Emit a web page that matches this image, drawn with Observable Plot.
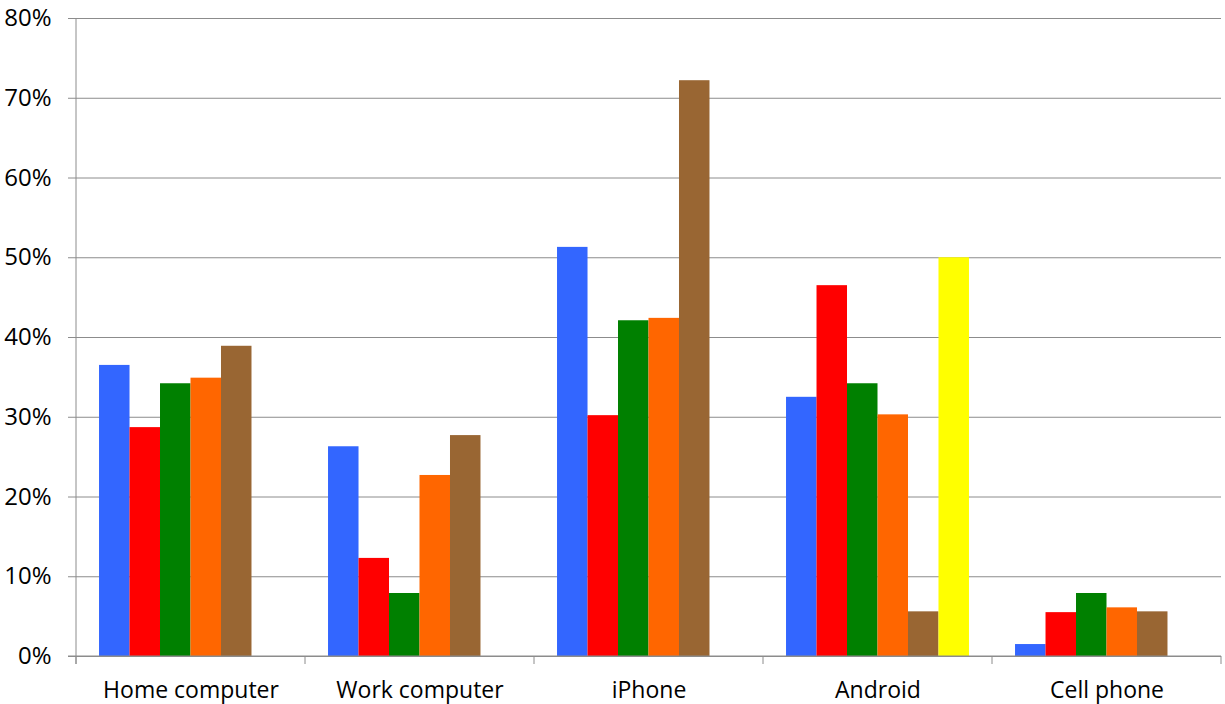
<!DOCTYPE html>
<html><head><meta charset="utf-8">
<script src="https://cdn.jsdelivr.net/npm/d3@7"></script>
<script src="https://cdn.jsdelivr.net/npm/@observablehq/plot@0.6"></script>
<style>html,body{margin:0;padding:0;background:#fff} svg{display:block}</style>
</head><body><div id="chart"></div>
<script>
const categories = ["Home computer", "Work computer", "iPhone", "Android", "Cell phone"];
const seriesNames = ["s1", "s2", "s3", "s4", "s5", "s6"];
const seriesColors = ["#3366FF", "#FF0000", "#008000", "#FF6600", "#996633", "#FFFF00"];
const blueValues   = [36.5, 26.3, 51.3, 32.5, 1.5];
const redValues    = [28.7, 12.3, 30.2, 46.5, 5.5];
const greenValues  = [34.2, 7.9, 42.1, 34.2, 7.9];
const orangeValues = [34.9, 22.7, 42.4, 30.3, 6.1];
const brownValues  = [38.9, 27.7, 72.2, 5.6, 5.6];
const yellowValues = [null, null, null, 50.0, null];
const yTicks = [0, 10, 20, 30, 40, 50, 60, 70, 80];

const allValues = [blueValues, redValues, greenValues, orangeValues, brownValues, yellowValues];
const data = [];
categories.forEach((c, i) => allValues.forEach((vals, j) => {
  if (vals[i] != null) data.push({cat: c, s: seriesNames[j], v: vals[i]});
}));

const gridColor = "#8c8c8c";
const plot = Plot.plot({
  width: 1225, height: 704,
  marginLeft: 76, marginRight: 4, marginTop: 18, marginBottom: 48,
  style: {fontFamily: "'Open Sans', sans-serif", color: "#000", background: "#fff", overflow: "visible"},
  fx: {domain: categories, padding: 0, label: null, round: false},
  x: {domain: seriesNames, paddingInner: 0, paddingOuter: 0.755, axis: null, round: false},
  y: {domain: [0, 80], label: null},
  color: {domain: seriesNames, range: seriesColors},
  marks: [
    Plot.gridY(yTicks, {stroke: gridColor, strokeOpacity: 1, strokeWidth: 1}),
    Plot.barY(data, {fx: "cat", x: "s", y: "v", fill: "s", inset: 0}),
    Plot.axisY(yTicks, {tickFormat: d => d + "%", tickSize: 8, tickPadding: 17, stroke: gridColor, fill: "#000", fontSize: 24, label: null}),
    Plot.axisFx({anchor: "bottom", tickSize: 0, tickPadding: 25, fontSize: 23, fill: "#000", label: null})
  ]
});

// axis line and category boundary ticks derived from the scales
const fx = plot.scale("fx"), y = plot.scale("y");
const svg = d3.select(plot);
const edges = categories.map(c => fx.apply(c)).concat([fx.apply(categories[categories.length - 1]) + fx.bandwidth]);
const y0 = y.apply(0), yTop = y.apply(80);
const g = svg.append("g").attr("stroke", gridColor).attr("stroke-width", 1);
g.append("line").attr("x1", edges[0]).attr("x2", edges[0]).attr("y1", yTop).attr("y2", y0 + 8);
edges.forEach(x => g.append("line").attr("x1", x).attr("x2", x).attr("y1", y0).attr("y2", y0 + 8));
g.append("line").attr("x1", edges[0] - 8).attr("x2", edges[edges.length - 1]).attr("y1", y0).attr("y2", y0);

document.getElementById("chart").appendChild(plot);
</script>
</body></html>
